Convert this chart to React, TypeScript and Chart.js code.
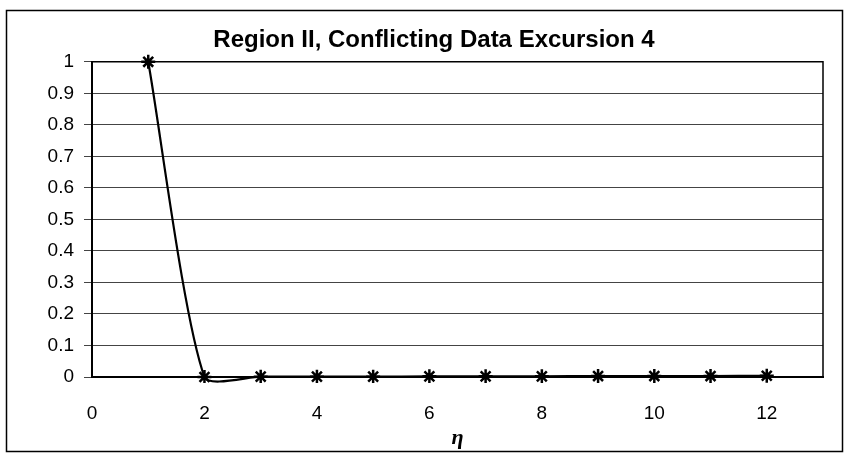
import React, { useEffect, useRef } from "react";
import { Chart, registerables } from "chart.js";

Chart.register(...registerables);

const chartTitle = "Region II, Conflicting Data Excursion 4";
const xAxisTitle = "η";
const etaValues = [1, 2, 3, 4, 5, 6, 7, 8, 9, 10, 11, 12];
const seriesValues = [1, 0, 0.001, 0.001, 0.001, 0.002, 0.002, 0.002, 0.003, 0.003, 0.003, 0.004];
const xTickValues = [0, 2, 4, 6, 8, 10, 12];

const framePlugin = {
  id: "framePlugin",
  beforeDraw(chart: any) {
    const ctx = chart.ctx;
    ctx.save();
    ctx.fillStyle = "#ffffff";
    ctx.fillRect(0, 0, chart.width, chart.height);
    ctx.strokeStyle = "#000";
    ctx.lineWidth = 1.5;
    ctx.strokeRect(6.5, 10.5, 836, 441);
    ctx.restore();
  },
  afterDatasetsDraw(chart: any) {
    const { ctx, chartArea } = chart;
    ctx.save();
    ctx.strokeStyle = "#000";
    ctx.lineWidth = 1.5;
    ctx.beginPath();
    ctx.moveTo(chartArea.left, chartArea.top);
    ctx.lineTo(chartArea.right, chartArea.top);
    ctx.lineTo(chartArea.right, chartArea.bottom);
    ctx.stroke();
    ctx.restore();
  },
};

export default function App() {
  const ref = useRef<HTMLCanvasElement | null>(null);

  useEffect(() => {
    document.body.style.margin = "0";
    const canvas = ref.current;
    if (!canvas) return;
    const chart = new Chart(canvas, {
      type: "line",
      data: {
        datasets: [
          {
            data: etaValues.map((x, i) => ({ x, y: seriesValues[i] })),
            borderColor: "#000",
            borderWidth: 2.2,
            backgroundColor: "#000",
            pointStyle: "star",
            pointRadius: 7,
            pointBorderWidth: 2.5,
            pointBorderColor: "#000",
            tension: 0.22,
            capBezierPoints: false,
            clip: { left: 8, right: 8, top: 8, bottom: 6 },
          } as any,
        ],
      },
      plugins: [framePlugin],
      options: {
        animation: false,
        responsive: false,
        devicePixelRatio: 1,
        events: [],
        layout: { padding: { left: 45, right: 25, top: 0, bottom: 0 } },
        plugins: {
          legend: { display: false },
          tooltip: { enabled: false },
          title: {
            display: true,
            text: chartTitle,
            color: "#000",
            font: { family: "'Liberation Sans', Arial, sans-serif", size: 24, weight: "bold" },
            padding: { top: 26, bottom: 7 },
          },
        },
        scales: {
          x: {
            type: "linear",
            min: 0,
            max: 13,
            afterBuildTicks: (scale: any) => {
              scale.ticks = xTickValues.map((v) => ({ value: v }));
            },
            afterFit: (scale: any) => {
              scale.height = 81;
            },
            grid: { display: false, drawTicks: false },
            border: { display: true, color: "#000", width: 2 },
            ticks: {
              color: "#000",
              padding: 25,
              font: { family: "'Liberation Sans', Arial, sans-serif", size: 19 },
              callback: (v: any) => String(v),
            },
            title: {
              display: true,
              text: xAxisTitle,
              color: "#000",
              font: { family: "'Liberation Serif', 'DejaVu Serif', serif", size: 22, weight: "bold", style: "italic" },
              padding: { top: 0, bottom: 6 },
            },
          },
          y: {
            min: 0,
            max: 1,
            afterFit: (scale: any) => {
              scale.width = 47;
            },
            grid: { color: "#444", lineWidth: 1, tickLength: 8, drawTicks: true },
            border: { display: true, color: "#000", width: 2 },
            ticks: {
              stepSize: 0.1,
              color: "#000",
              padding: 10,
              font: { family: "'Liberation Sans', Arial, sans-serif", size: 19 },
              callback: (v: any) => String(Math.round(Number(v) * 10) / 10),
            },
          },
        },
      } as any,
    });
    return () => chart.destroy();
  }, []);

  return <canvas ref={ref} width={848} height={458} style={{ display: "block", width: 848, height: 458 }} />;
}
